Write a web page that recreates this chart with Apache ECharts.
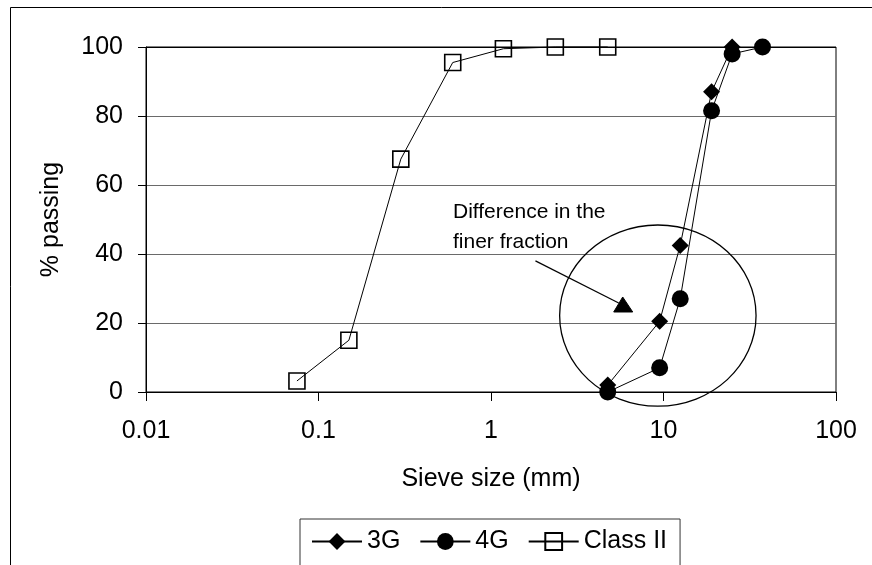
<!DOCTYPE html>
<html>
<head>
<meta charset="utf-8">
<script src="https://cdn.jsdelivr.net/npm/echarts@6/dist/echarts.min.js"></script>
<style>
  html, body { margin: 0; padding: 0; background: #fff; }
  #chart { width: 872px; height: 565px; }
</style>
</head>
<body>
<div id="chart"></div>
<script>
// Grading curves: sieve size (mm) vs. cumulative % passing
const sieve3G = [4.75, 9.5, 12.5, 19, 25];
const passing3G = [2, 20.5, 42.5, 87, 100];

const sieve4G = [4.75, 9.5, 12.5, 19, 25, 37.5];
const passing4G = [0, 7, 27, 81.5, 98, 100];

const sieveClassII = [0.075, 0.15, 0.3, 0.6, 1.18, 2.36, 4.75];
const passingClassII = [3.2, 15, 67.5, 95.5, 99.5, 100, 100];

const xTickLabels = ['0.01', '0.1', '1', '10', '100'];
const yTickLabels = ['0', '20', '40', '60', '80', '100'];

const seriesNames = ['3G', '4G', 'Class II'];
const noteText = 'Difference in the\nfiner fraction';

const FONT = '"Liberation Sans", Arial, Helvetica, sans-serif';

function pairs(xs, ys) {
  return xs.map((x, i) => [x, ys[i]]);
}

const chart = echarts.init(document.getElementById('chart'), null, { renderer: 'canvas' });

const baseLine = { color: '#000', width: 1 };

chart.setOption({
  backgroundColor: '#fff',
  animation: false,
  grid: {
    left: 146, right: 36, top: 47, bottom: 173,
    show: true, borderColor: '#000', borderWidth: 1,
    containLabel: false, outerBoundsMode: 'none'
  },
  xAxis: {
    type: 'log', logBase: 10, min: 0.01, max: 100,
    name: 'Sieve size (mm)', nameLocation: 'middle', nameGap: 75,
    nameTextStyle: { color: '#000', fontSize: 25, fontFamily: FONT },
    axisLine: { show: true, onZero: false, lineStyle: { color: '#000', width: 1 } },
    axisTick: { show: true, inside: false, length: 9, lineStyle: { color: '#000', width: 1 } },
    minorTick: { show: false },
    splitLine: { show: false },
    axisLabel: {
      color: '#000', fontSize: 25, fontFamily: FONT, margin: 27,
      formatter: (v, i) => xTickLabels[i]
    }
  },
  yAxis: {
    type: 'value', min: 0, max: 100, interval: 20,
    name: '% passing', nameLocation: 'middle', nameGap: 82, nameRotate: 90,
    nameTextStyle: { color: '#000', fontSize: 25, fontFamily: FONT },
    axisLine: { show: true, lineStyle: { color: '#000', width: 1 } },
    axisTick: { show: true, inside: false, length: 8, lineStyle: { color: '#000', width: 1 } },
    splitLine: {
      show: true,
      lineStyle: { color: ['#000', '#6a6a6a', '#6a6a6a', '#6a6a6a', '#6a6a6a', '#000'], width: 1 }
    },
    axisLabel: {
      color: '#000', fontSize: 25, fontFamily: FONT, margin: 23,
      formatter: (v, i) => yTickLabels[i]
    }
  },
  legend: {
    data: seriesNames,
    left: 300, top: 519,
    orient: 'horizontal',
    padding: [10, 13, 16, 11],
    itemWidth: 50, itemHeight: 21, itemGap: 19,
    borderColor: '#333', borderWidth: 1,
    backgroundColor: '#fff',
    textStyle: { color: '#000', fontSize: 25, fontFamily: FONT }
  },
  series: [
    {
      name: seriesNames[0], type: 'line', data: pairs(sieve3G, passing3G),
      symbol: 'diamond', symbolSize: 17, clip: false,
      lineStyle: baseLine,
      itemStyle: { color: '#000', borderColor: '#000', borderWidth: 0 },
      z: 4
    },
    {
      name: seriesNames[1], type: 'line', data: pairs(sieve4G, passing4G),
      symbol: 'circle', symbolSize: 17, clip: false,
      lineStyle: baseLine,
      itemStyle: { color: '#000', borderColor: '#000', borderWidth: 0 },
      z: 4
    },
    {
      name: seriesNames[2], type: 'line', data: pairs(sieveClassII, passingClassII),
      symbol: 'rect', symbolSize: 16, clip: false,
      lineStyle: baseLine,
      itemStyle: { color: 'rgba(0,0,0,0)', borderColor: '#000', borderWidth: 1.6 },
      z: 4
    }
  ]
});

// Annotation: ellipse round the coarse curves' lower end, with an arrow and note
const ellipseBox = { x0: 2.5, x1: 34.4, y0: 48.4, y1: -4.1 };
const arrowFrom = [1.81, 38];
const arrowTo = [5.5, 25.8];

const toPx = (p) => chart.convertToPixel({ gridIndex: 0 }, p);
const tl = toPx([ellipseBox.x0, ellipseBox.y0]);
const br = toPx([ellipseBox.x1, ellipseBox.y1]);
const a0 = toPx(arrowFrom);
const a1 = toPx(arrowTo);

chart.setOption({
  graphic: [
    {
      type: 'rect', silent: true, z: -10,
      shape: { x: 10.5, y: 7.5, width: 900, height: 700 },
      style: { fill: 'none', stroke: '#000', lineWidth: 1 }
    },
    {
      type: 'ellipse', silent: true, z: 100,
      shape: { cx: (tl[0] + br[0]) / 2, cy: (tl[1] + br[1]) / 2, rx: (br[0] - tl[0]) / 2, ry: (br[1] - tl[1]) / 2 },
      style: { fill: 'none', stroke: '#000', lineWidth: 1.3 }
    },
    {
      type: 'line', silent: true, z: 100,
      shape: { x1: a0[0], y1: a0[1], x2: a1[0], y2: a1[1] },
      style: { stroke: '#000', lineWidth: 1.2 }
    },
    {
      type: 'polygon', silent: true, z: 100,
      shape: { points: [[a1[0] + 4, a1[1] - 6], [a1[0] - 5, a1[1] + 9], [a1[0] + 14, a1[1] + 9]] },
      style: { fill: '#000', stroke: '#000', lineWidth: 1 }
    },
    {
      type: 'text', silent: true, z: 100,
      x: 453, y: 197,
      style: {
        text: noteText, fill: '#000', font: '21px ' + FONT,
        lineHeight: 30, align: 'left', verticalAlign: 'top'
      }
    }
  ]
});
</script>
</body>
</html>
